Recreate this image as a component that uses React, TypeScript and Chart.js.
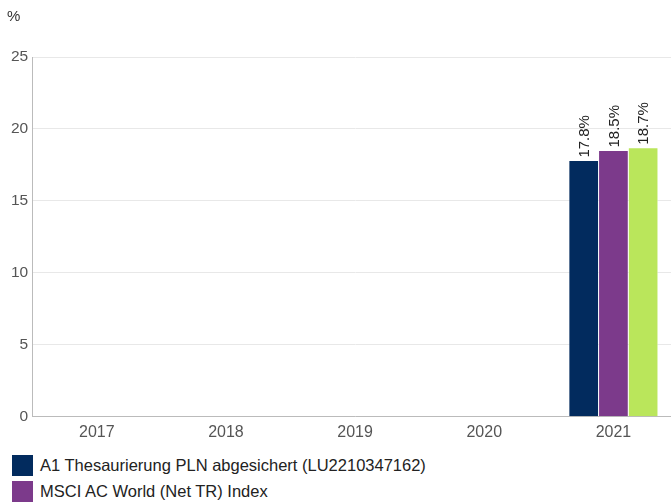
import React, { useEffect, useRef } from "react";
import { Chart, registerables } from "chart.js";

Chart.register(...registerables);

const categories = ["2017", "2018", "2019", "2020", "2021"];
const seriesNames = [
  "A1 Thesaurierung PLN abgesichert (LU2210347162)",
  "MSCI AC World (Net TR) Index",
  "Vergleichsindex",
];
const fundValues = [null, null, null, null, 17.8];
const msciValues = [null, null, null, null, 18.5];
const thirdValues = [null, null, null, null, 18.7];
const colors = ["#022b5e", "#7c3a8b", "#bae65b"];
const yTicks = [0, 5, 10, 15, 20, 25];

const FONT = "'Liberation Sans', Arial, sans-serif";

const barLabels = {
  id: "barLabels",
  afterDatasetsDraw(chart: any) {
    const ctx = chart.ctx;
    ctx.save();
    ctx.font = `15px ${FONT}`;
    ctx.fillStyle = "#222";
    ctx.textAlign = "left";
    ctx.textBaseline = "middle";
    chart.data.datasets.forEach((ds: any, i: number) => {
      const meta = chart.getDatasetMeta(i);
      meta.data.forEach((el: any, j: number) => {
        const v = ds.data[j];
        if (v == null) return;
        ctx.save();
        ctx.translate(el.x + 1, el.y - 3);
        ctx.rotate(-Math.PI / 2);
        ctx.fillText(v.toFixed(1) + "%", 0, 0);
        ctx.restore();
      });
    });
    ctx.restore();
  },
};

export default function App() {
  const ref = useRef<HTMLCanvasElement>(null);
  useEffect(() => {
    if (!ref.current) return;
    const chart = new Chart(ref.current, {
      type: "bar",
      data: {
        labels: categories,
        datasets: [fundValues, msciValues, thirdValues].map((d, i) => ({
          label: seriesNames[i],
          data: d as any,
          backgroundColor: colors[i],
          borderColor: "rgba(255,255,255,0.8)",
          borderWidth: 0.5,
          barPercentage: 1,
          categoryPercentage: 0.69,
        })),
      },
      options: {
        animation: false,
        responsive: false,
        maintainAspectRatio: false,
        layout: { padding: { left: 7, right: 2, top: 0, bottom: 0 } },
        plugins: {
          legend: { display: false },
          tooltip: { enabled: false },
          title: {
            display: true,
            text: "%",
            align: "start",
            color: "#333",
            font: { family: FONT, size: 15, weight: "normal" },
            padding: { top: 8, bottom: 31 },
          },
        },
        scales: {
          x: {
            grid: { display: false, drawTicks: false },
            border: { color: "#bbbbbb" },
            ticks: { color: "#555", font: { family: FONT, size: 16 }, padding: 6 },
          },
          y: {
            min: 0,
            max: 25,
            afterBuildTicks: (axis: any) => {
              axis.ticks = yTicks.map((v) => ({ value: v }));
            },
            grid: { color: "#e8e8e8", drawTicks: false },
            border: { color: "#bbbbbb" },
            ticks: { color: "#555", font: { family: FONT, size: 15.5 }, padding: 4 },
          },
        },
      },
      plugins: [barLabels],
    });
    return () => chart.destroy();
  }, []);

  return (
    <div style={{ position: "absolute", left: 0, top: 0, width: 671, height: 504, overflow: "hidden", background: "#fff" }}>
      <canvas ref={ref} width={680} height={448} style={{ display: "block" }} />
      <div style={{ position: "absolute", left: 12, top: 452, fontFamily: FONT, fontSize: 16.5, color: "#222", whiteSpace: "nowrap" }}>
        {seriesNames.map((n, i) => (
          <div key={n} style={{ display: "flex", alignItems: "center", height: 26 }}>
            <span style={{ display: "inline-block", width: 21, height: 21, background: colors[i], marginRight: 7, flex: "none" }} />
            <span>{n}</span>
          </div>
        ))}
      </div>
    </div>
  );
}
